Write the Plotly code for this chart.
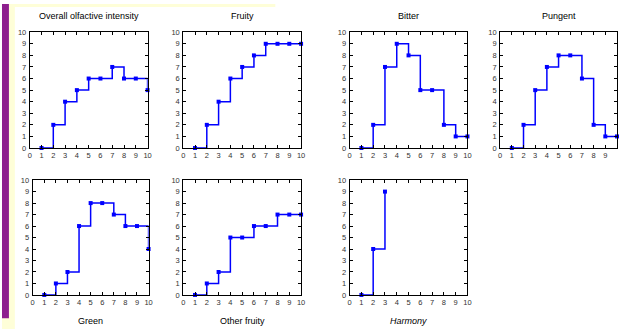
import plotly.graph_objects as go

W, H = 621, 334

scores = list(range(1, 11))
overall = [0, 2, 4, 5, 6, 6, 7, 6, 6, 5]
fruity = [0, 2, 4, 6, 7, 8, 9, 9, 9, 9]
bitter = [0, 2, 7, 9, 8, 5, 5, 2, 1, 1]
pungent = [0, 2, 5, 7, 8, 8, 6, 2, 1, 1]
green = [0, 1, 2, 6, 8, 8, 7, 6, 6, 4]
other_fruity = [0, 1, 2, 5, 5, 6, 6, 7, 7, 7]
harmony_x = [1, 2, 3]
harmony = [0, 4, 9]

tick_vals = list(range(0, 11))
tick_text = [str(v) for v in tick_vals]

panels = [
    ("Overall olfactive intensity", scores, overall, (28, 147), (29, 148), "top"),
    ("Fruity", scores, fruity, (183, 302), (29, 148), "top"),
    ("Bitter", scores, bitter, (351, 470), (29, 148), "top"),
    ("Pungent", scores, pungent, (503, 621), (29, 148), "top"),
    ("Green", scores, green, (31, 148), (181, 299), "bottom"),
    ("Other fruity", scores, other_fruity, (183, 302), (181, 299), "bottom"),
    ("<i>Harmony</i>", harmony_x, harmony, (351, 470), (181, 299), "bottom"),
]

fig = go.Figure()
annotations = []
for i, (title, xs, ys, (x0, x1), (y0, y1), pos) in enumerate(panels):
    n = "" if i == 0 else str(i + 1)
    fig.add_trace(go.Scatter(
        x=xs, y=ys, mode="lines+markers",
        line=dict(shape="hv", color="#0000ff", width=1.5),
        marker=dict(symbol="square", size=4, color="#0000ff"),
        xaxis="x" + n, yaxis="y" + n, showlegend=False, cliponaxis=False,
    ))
    axcommon = dict(
        range=[0, 10], tickmode="array", tickvals=tick_vals, ticktext=tick_text,
        showline=True, mirror="ticks", linecolor="black", linewidth=1,
        ticks="inside", ticklen=3, tickwidth=1, tickcolor="black",
        showgrid=False, zeroline=False, fixedrange=True,
        tickfont=dict(size=7.5, color="#333", family="Liberation Sans, Arial, sans-serif"),
    )
    fig.update_layout(**{
        "xaxis" + n: dict(axcommon, domain=[x0 / W, x1 / W], anchor="y" + n),
        "yaxis" + n: dict(axcommon, domain=[1 - y1 / H, 1 - y0 / H], anchor="x" + n,
                          ticklabelstandoff=1),
    })
    cy = 12 if pos == "top" else 326
    annotations.append(dict(
        text=title, x=(x0 + (x1 if i != 3 else 622)) / 2 / W, y=1 - cy / H,
        xref="paper", yref="paper", showarrow=False, xanchor="center", yanchor="middle",
        font=dict(size=9, color="black", family="Liberation Sans, Arial, sans-serif"),
    ))

shapes = [
    dict(type="rect", xref="paper", yref="paper", x0=0, x1=13 / W, y0=0, y1=1,
         fillcolor="#fefed8", line=dict(width=0), layer="below"),
    dict(type="rect", xref="paper", yref="paper", x0=0, x1=276 / W, y0=1 - 3 / H, y1=1,
         fillcolor="#fefed8", line=dict(width=0), layer="below"),
    dict(type="rect", xref="paper", yref="paper", x0=0, x1=7 / W, y0=1 - 323 / H, y1=1,
         fillcolor="#8e1f8e", line=dict(width=0), layer="below"),
]

fig.update_layout(
    width=W, height=H, margin=dict(l=0, r=0, t=0, b=0),
    paper_bgcolor="white", plot_bgcolor="white",
    annotations=annotations, shapes=shapes,
    font=dict(family="Liberation Sans, Arial, sans-serif"),
)

fig.write_html(
    "out.html",
    config={"displayModeBar": False, "staticPlot": True},
    post_script="document.body.style.margin='0';document.body.style.overflow='hidden';",
)
